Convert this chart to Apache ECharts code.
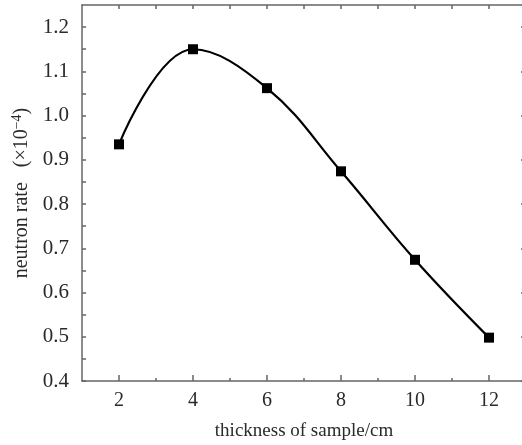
<!DOCTYPE html>
<html>
<head>
<meta charset="utf-8">
<script src="https://cdn.jsdelivr.net/npm/echarts@6/dist/echarts.min.js"></script>
<style>
html,body{margin:0;padding:0;background:#fff;}
#chart{width:522px;height:445px;}
</style>
</head>
<body>
<div id="chart"></div>
<script>
// Data
var thickness = [2, 4, 6, 8, 10, 12];
var neutronRate = [0.935, 1.15, 1.062, 0.874, 0.674, 0.498];
var xLabelValues = [2, 4, 6, 8, 10, 12];
var xMinorValues = [3, 5, 7, 9, 11];
var xTopTicks = [2, 3, 4, 5, 6, 7, 8, 9, 10, 11, 12];
var yLabelValues = [0.4, 0.5, 0.6, 0.7, 0.8, 0.9, 1.0, 1.1, 1.2];
var yTickValues = [0.4, 0.45, 0.5, 0.55, 0.6, 0.65, 0.7, 0.75, 0.8, 0.85, 0.9, 0.95, 1.0, 1.05, 1.1, 1.15, 1.2];

var FONT = '"Liberation Serif", "DejaVu Serif", serif';
var AX = '#666';
var TXT = '#2a2a2a';

var chart = echarts.init(document.getElementById('chart'), null, {renderer: 'canvas'});
var seriesData = thickness.map(function (x, i) { return [x, neutronRate[i]]; });

var xBase = {
  type: 'value', min: 1, max: 13, position: 'bottom',
  splitLine: {show: false}
};

chart.setOption({
  animation: false,
  backgroundColor: '#fff',
  grid: {left: 82, top: 5, width: 444, height: 376, containLabel: false, outerBoundsMode: 'none'},
  xAxis: [
    Object.assign({}, xBase, {
      gridIndex: 0,
      axisLine: {show: true, onZero: false, lineStyle: {color: AX, width: 1.5}},
      axisTick: {show: true, inside: true, length: 6, customValues: xLabelValues, lineStyle: {color: AX, width: 1.5}},
      axisLabel: {show: true, customValues: xLabelValues, margin: 10, color: TXT, fontFamily: FONT, fontSize: 20},
      name: 'thickness of sample/cm', nameLocation: 'middle', nameGap: 41,
      nameTextStyle: {color: TXT, fontFamily: FONT, fontSize: 19}
    }),
    Object.assign({}, xBase, {
      gridIndex: 0,
      axisLine: {show: false, onZero: false},
      axisTick: {show: true, inside: true, length: 3, customValues: xMinorValues, lineStyle: {color: AX, width: 1.5}},
      axisLabel: {show: false}
    }),
    Object.assign({}, xBase, {
      gridIndex: 0, position: 'top',
      axisLine: {show: true, onZero: false, lineStyle: {color: AX, width: 1.5}},
      axisTick: {show: true, inside: true, length: 4, customValues: xTopTicks, lineStyle: {color: AX, width: 1.5}},
      axisLabel: {show: false}
    })
  ],
  yAxis: [
    {
      type: 'value', min: 0.4, max: 1.25, position: 'left',
      splitLine: {show: false},
      axisLine: {show: true, onZero: false, lineStyle: {color: AX, width: 1.5}},
      axisTick: {show: true, inside: true, length: 4, customValues: yTickValues, lineStyle: {color: AX, width: 1.5}},
      axisLabel: {show: true, customValues: yLabelValues, margin: 13, color: TXT, fontFamily: FONT, fontSize: 21,
        formatter: function (v) { return Number(v).toFixed(1); }},
      name: 'neutron rate   (×10{sup|−4})', nameLocation: 'middle', nameGap: 44, nameRotate: 90,
      nameTextStyle: {color: TXT, fontFamily: FONT, fontSize: 20,
        rich: {sup: {fontFamily: FONT, fontSize: 14, color: TXT, verticalAlign: 'top', padding: [0, 0, 9, 0]}}}
    },
    {
      type: 'value', min: 0.4, max: 1.25, position: 'right',
      splitLine: {show: false},
      axisLine: {show: true, onZero: false, lineStyle: {color: AX, width: 1.5}},
      axisTick: {show: true, inside: true, length: 5, customValues: yLabelValues, lineStyle: {color: AX, width: 1.5}},
      axisLabel: {show: false}
    }
  ],
  series: [{
    type: 'line',
    xAxisIndex: 0, yAxisIndex: 0,
    data: seriesData,
    smooth: 0.4,
    symbol: 'rect',
    symbolSize: 10,
    lineStyle: {color: '#000', width: 2.2},
    itemStyle: {color: '#000'},
    clip: false
  }]
});
</script>
</body>
</html>
